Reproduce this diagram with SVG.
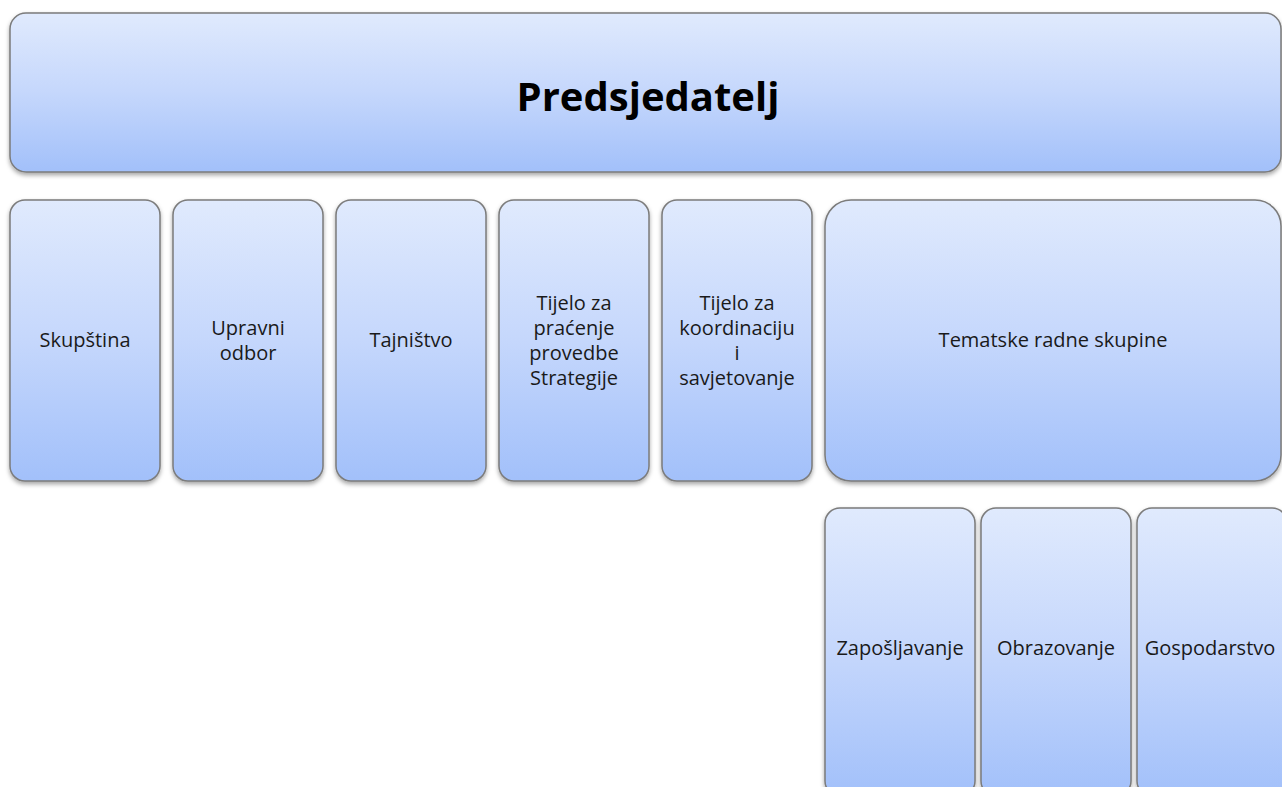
<svg xmlns="http://www.w3.org/2000/svg" width="1282" height="787" viewBox="0 0 1282 787">
<defs>
<linearGradient id="g" x1="0" y1="0" x2="0" y2="1">
<stop offset="0" stop-color="#e0eafd"/>
<stop offset="0.5" stop-color="#c5d7fc"/>
<stop offset="1" stop-color="#a2c0fa"/>
</linearGradient>
<filter id="sh" x="-10%" y="-10%" width="120%" height="130%">
<feDropShadow dx="0" dy="2.5" stdDeviation="2" flood-color="#000" flood-opacity="0.35"/>
</filter>
</defs>
<style>
rect{fill:url(#g);stroke:#7b7b7b;stroke-width:1.5;filter:url(#sh)}
text{font-family:"Open Sans","Liberation Sans",sans-serif;fill:#1a1a1a;text-anchor:middle;font-size:20px}
.big{font-size:40px;font-weight:bold;fill:#000}
</style>
<rect width="100%" height="100%" fill="#fff" style="fill:#fff;stroke:none;filter:none"/>
<g id="predsjedatelj">
<rect x="10" y="13" width="1271" height="159" rx="16"/>
<text class="big" x="648" y="111">Predsjedatelj</text>
</g>
<g id="skupstina">
<rect x="10" y="200" width="150" height="281" rx="15"/>
<text x="85" y="347">Skupština</text>
</g>
<g id="upravni">
<rect x="173" y="200" width="150" height="281" rx="15"/>
<text x="248" y="335">Upravni</text>
<text x="248" y="360">odbor</text>
</g>
<g id="tajnistvo">
<rect x="336" y="200" width="150" height="281" rx="15"/>
<text x="411" y="347">Tajništvo</text>
</g>
<g id="pracenje">
<rect x="499" y="200" width="150" height="281" rx="15"/>
<text x="574" y="310">Tijelo za</text>
<text x="574" y="335">praćenje</text>
<text x="574" y="360">provedbe</text>
<text x="574" y="385">Strategije</text>
</g>
<g id="koordinacija">
<rect x="662" y="200" width="150" height="281" rx="15"/>
<text x="737" y="310">Tijelo za</text>
<text x="737" y="335">koordinaciju</text>
<text x="737" y="360">i</text>
<text x="737" y="385">savjetovanje</text>
</g>
<g id="tematske">
<rect x="825" y="200" width="456" height="281" rx="26"/>
<text x="1053" y="347">Tematske radne skupine</text>
</g>
<g id="zaposljavanje">
<rect x="825" y="508" width="150" height="288" rx="15"/>
<text x="900" y="655">Zapošljavanje</text>
</g>
<g id="obrazovanje">
<rect x="981" y="508" width="150" height="288" rx="15"/>
<text x="1056" y="655">Obrazovanje</text>
</g>
<g id="gospodarstvo">
<rect x="1137" y="508" width="150" height="288" rx="15"/>
<text x="1210" y="655">Gospodarstvo</text>
</g>
<g id="connectors"></g>
</svg>
